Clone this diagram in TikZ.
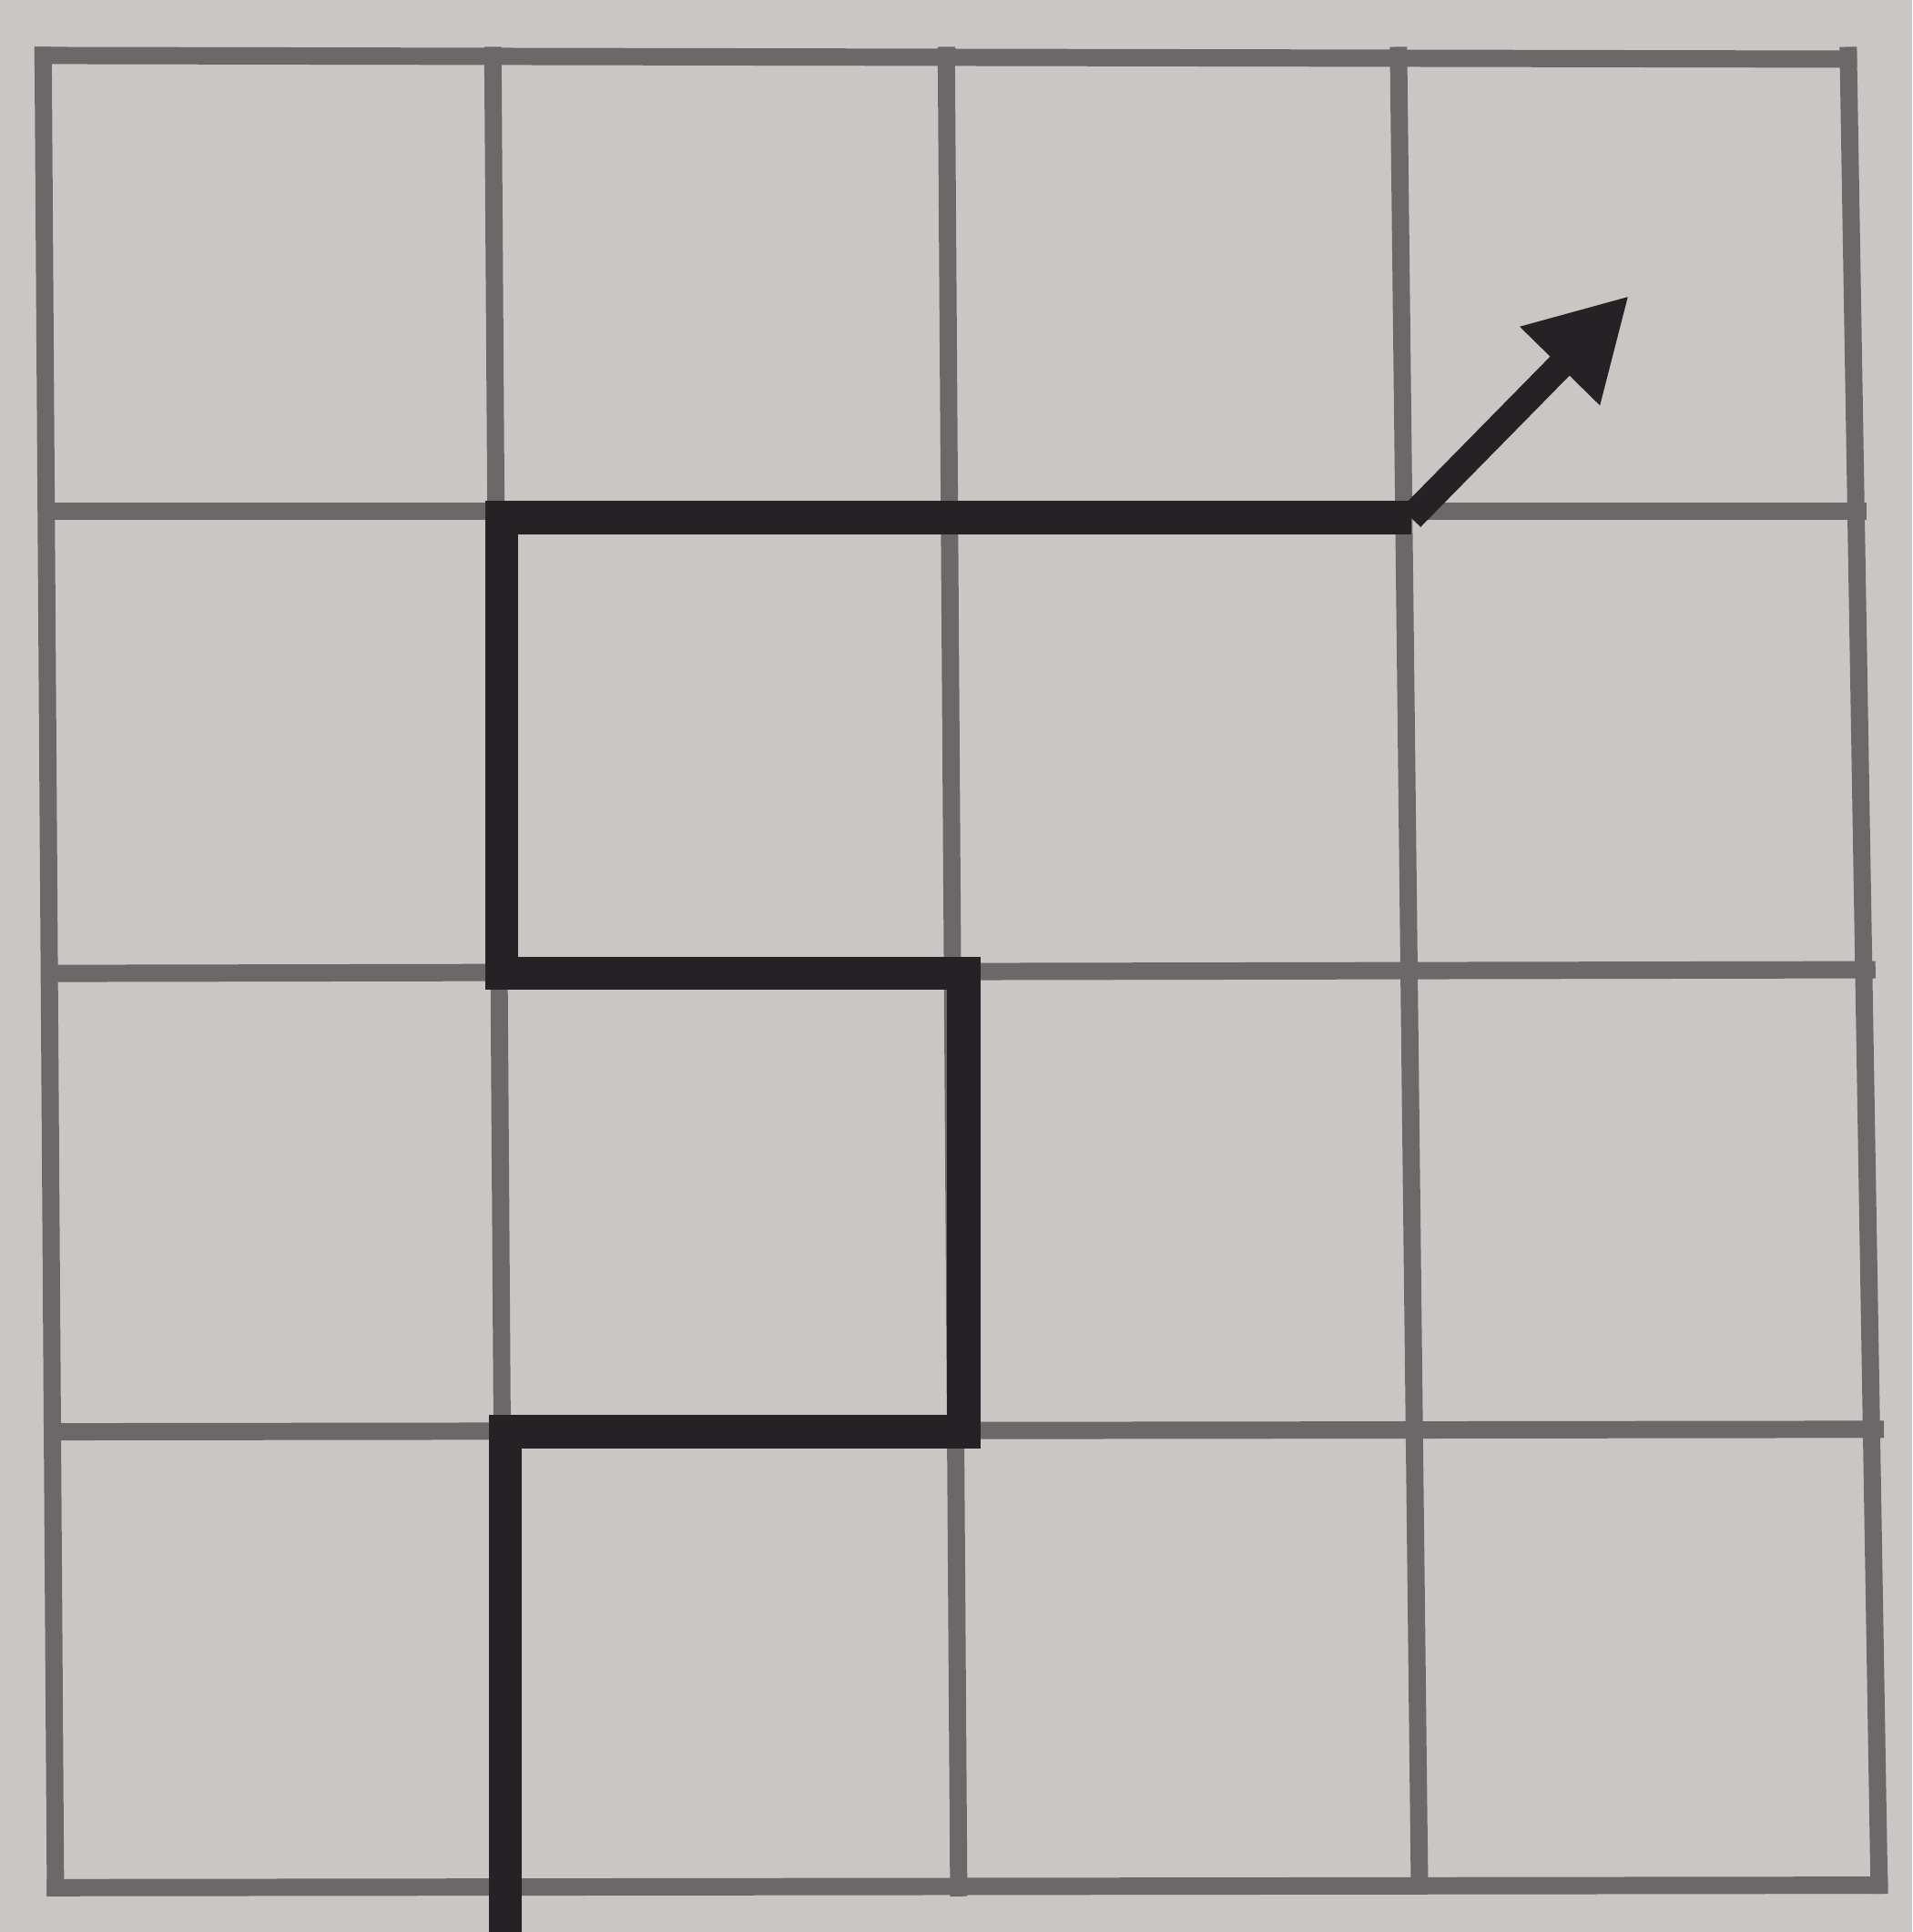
\documentclass[tikz,border=0pt]{standalone}
\usetikzlibrary{arrows.meta}
\definecolor{paper}{RGB}{200,199,196}
\definecolor{gridc}{RGB}{108,104,106}
\definecolor{ink}{RGB}{38,33,36}
\tikzset{
  gridline/.style={draw=gridc, line width=0.14cm, line cap=rect},
  pathline/.style={draw=ink, line width=0.27cm, line join=miter},
}
\begin{document}
\begin{tikzpicture}[x=0.01cm,y=-0.01cm]
\fill[paper] (0,0) rectangle (1552,1568);
\useasboundingbox (0,0) rectangle (1552,1568);
% vertical grid lines
\draw[gridline] (35,45) -- (45,1532);
\draw[gridline] (400,45) -- (410,1530);
\draw[gridline] (768,45) -- (778,1532);
\draw[gridline] (1135,45) -- (1152,1530);
\draw[gridline] (1500,45) -- (1525,1530);
% horizontal grid lines
\draw[gridline] (35,45) -- (1500,48);
\draw[gridline] (38,415) -- (1508,415);
\draw[gridline] (42,790) -- (1515,787);
\draw[gridline] (45,1162) -- (1522,1160);
\draw[gridline] (45,1532) -- (1525,1530);
% thick path
\coordinate (p0) at (410,1568);
\coordinate (p1) at (410,1162);
\coordinate (p2) at (782,1162);
\coordinate (p3) at (782,790);
\coordinate (p4) at (407,790);
\coordinate (p5) at (407,420);
\coordinate (p6) at (1145,420);
\coordinate (p7) at (1322,240);
\draw[pathline] (p0) -- (p1) -- (p2) -- (p3) -- (p4) -- (p5) -- (p6);
\draw[draw=ink, line width=0.22cm, -{Triangle[length=0.8cm,width=0.85cm]}] (p6) -- (p7);
\end{tikzpicture}
\end{document}
